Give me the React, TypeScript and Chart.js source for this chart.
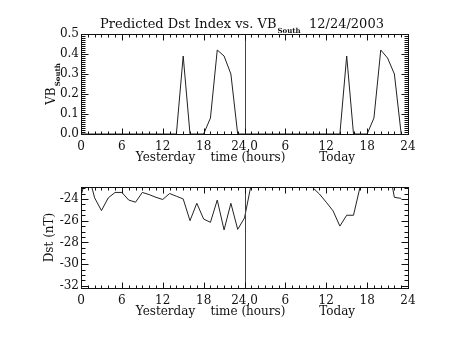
import React, { useEffect, useRef } from "react";
import { Chart, registerables } from "chart.js";

Chart.register(...registerables);

const hours = [
  0, 1, 2, 3, 4, 5, 6, 7, 8, 9, 10, 11, 12, 13, 14, 15, 16, 17, 18, 19, 20, 21, 22, 23,
  24, 25, 26, 27, 28, 29, 30, 31, 32, 33, 34, 35, 36, 37, 38, 39, 40, 41, 42, 43, 44, 45, 46, 47,
];
const vbSouth = [
  0, 0, 0, 0, 0, 0, 0, 0, 0, 0, 0, 0, 0, 0, 0, 0.39, 0, 0, 0, 0.08, 0.42, 0.39, 0.3, 0,
  0, 0, 0, 0, 0, 0, 0, 0, 0, 0, 0, 0, 0, 0, 0, 0.39, 0, 0, 0, 0.08, 0.42, 0.38, 0.3, 0,
];
const dst = [
  -23.7, -21.5, -23.9, -25.07, -23.9, -23.4, -23.4, -24.1, -24.3, -23.4, -23.6, -23.85,
  -24.05, -23.5, -23.75, -24.0, -26.0, -24.4, -25.85, -26.15, -24.1, -26.85, -24.4, -26.8,
  -25.75, -22.6, -22.0, -21.5, -21.0, -21.3, -21.8, -22.0, -21.9, -22.3, -22.95, -23.55,
  -24.3, -25.1, -26.5, -25.5, -25.5, -22.8, -22.4, -22.97, -22.3, -20.5, -23.85, -23.95,
];
const xTickValues = [0, 6, 12, 18, 24, 30, 36, 42, 48];
const xTickLabels = ["0", "6", "12", "18", "24,0", "6", "12", "18", "24"];
const vbTicks = [0, 0.1, 0.2, 0.3, 0.4, 0.5];
const vbTickLabels = ["0.0", "0.1", "0.2", "0.3", "0.4", "0.5"];
const dstTicks = [-32, -30, -28, -26, -24];
const dstTickLabels = ["-32", "-30", "-28", "-26", "-24"];
const dayLabels = ["Yesterday", "time (hours)", "Today"];
const titleMain = "Predicted Dst Index vs. VB";
const titleSub = "South";
const titleDate = "12/24/2003";
const vbAxisMain = "VB";
const vbAxisSub = "South";
const dstAxisTitle = "Dst (nT)";

const FONT = '"DejaVu Serif", serif';
const INK = "#111";

type Kind = "vb" | "dst";

function framePlugin(kind: Kind) {
  return {
    id: "frame" + kind,
    afterDatasetsDraw(chart: any) {
      const { ctx, chartArea: a, scales } = chart;
      const xs = scales.x;
      ctx.save();
      ctx.strokeStyle = "#444";
      ctx.lineWidth = 1;
      const px = Math.round(xs.getPixelForValue(24)) + 0.5;
      ctx.beginPath();
      ctx.moveTo(px, a.top);
      ctx.lineTo(px, a.bottom);
      ctx.stroke();
      ctx.restore();
    },
    afterDraw(chart: any) {
      const { ctx, chartArea: a, scales } = chart;
      const xs = scales.x;
      const ys = scales.y;
      const L = Math.round(a.left) + 0.5;
      const R = Math.round(a.right) + 0.5;
      const T = Math.round(a.top) + 0.5;
      const B = Math.round(a.bottom) + 0.5;
      ctx.save();
      ctx.strokeStyle = INK;
      ctx.lineWidth = 1;
      ctx.strokeRect(L, T, R - L, B - T);
      ctx.beginPath();
      // x ticks (minor every hour, major every 6)
      for (let h = 0; h <= 48; h += 1) {
        const x = Math.round(xs.getPixelForValue(h)) + 0.5;
        const len = h % 6 === 0 ? 6 : 3;
        ctx.moveTo(x, B);
        ctx.lineTo(x, B - len);
        ctx.moveTo(x, T);
        ctx.lineTo(x, T + len);
      }
      // y ticks
      const yMajor = kind === "vb" ? vbTicks : dstTicks;
      const step = kind === "vb" ? 0.01 : 0.5;
      const lo = kind === "vb" ? 0 : -32;
      const hi = ys.max;
      for (let i = 0; lo + i * step <= hi + 1e-9; i++) {
        const v = lo + i * step;
        const y = Math.round(ys.getPixelForValue(v)) + 0.5;
        const isMajor = yMajor.some((m) => Math.abs(m - v) < 1e-6);
        const len = isMajor ? 7 : 4;
        ctx.moveTo(L, y);
        ctx.lineTo(L + len, y);
        ctx.moveTo(R, y);
        ctx.lineTo(R - len, y);
      }
      ctx.stroke();

      // axis titles under x axis
      ctx.fillStyle = INK;
      ctx.font = `12px ${FONT}`;
      ctx.textAlign = "center";
      ctx.textBaseline = "middle";
      const ty = B + 23;
      ctx.fillText(dayLabels[0], xs.getPixelForValue(12.4), ty);
      ctx.fillText(dayLabels[1], xs.getPixelForValue(24.5), ty);
      ctx.fillText(dayLabels[2], xs.getPixelForValue(37.6), ty);

      const cy = (a.top + a.bottom) / 2;
      if (kind === "vb") {
        // title
        ctx.textAlign = "left";
        ctx.textBaseline = "alphabetic";
        ctx.font = `13px ${FONT}`;
        ctx.fillText(titleMain, 100, 28);
        const w1 = ctx.measureText(titleMain).width;
        ctx.font = `bold 7px ${FONT}`;
        ctx.fillText(titleSub, 100 + w1 + 1, 33);
        ctx.font = `13px ${FONT}`;
        ctx.fillText(titleDate, 309, 28);
        // y axis title with subscript
        ctx.save();
        ctx.translate(55, cy);
        ctx.rotate(-Math.PI / 2);
        ctx.font = `12px ${FONT}`;
        const wm = ctx.measureText(vbAxisMain).width;
        ctx.font = `bold 7px ${FONT}`;
        const ws = ctx.measureText(vbAxisSub).width;
        const start = -(wm + ws + 1) / 2;
        ctx.font = `12px ${FONT}`;
        ctx.fillText(vbAxisMain, start, 0);
        ctx.font = `bold 7px ${FONT}`;
        ctx.fillText(vbAxisSub, start + wm + 1, 5);
        ctx.restore();
      } else {
        ctx.save();
        ctx.translate(53, cy);
        ctx.rotate(-Math.PI / 2);
        ctx.font = `12px ${FONT}`;
        ctx.textAlign = "center";
        ctx.textBaseline = "alphabetic";
        ctx.fillText(dstAxisTitle, 0, 0);
        ctx.restore();
      }
      ctx.restore();
    },
  };
}

function makeConfig(kind: Kind): any {
  const isVb = kind === "vb";
  const values = isVb ? vbSouth : dst;
  const yT = isVb ? vbTicks : dstTicks;
  const yL = isVb ? vbTickLabels : dstTickLabels;
  return {
    type: "line",
    data: {
      datasets: [
        {
          data: hours.map((h, i) => ({ x: h, y: values[i] })),
          borderColor: "#222",
          borderWidth: 1,
          pointRadius: 0,
          tension: 0,
          fill: false,
        },
      ],
    },
    options: {
      animation: false,
      responsive: false,
      events: [],
      layout: {
        padding: isVb
          ? { left: 31, right: 45, top: 34, bottom: 0 }
          : { left: 31, right: 45, top: 17, bottom: 0 },
      },
      plugins: {
        legend: { display: false },
        tooltip: { enabled: false },
        title: { display: false },
      },
      scales: {
        x: {
          type: "linear",
          min: 0,
          max: 48,
          grid: { display: false, drawTicks: false },
          border: { display: false },
          afterBuildTicks: (s: any) => {
            s.ticks = xTickValues.map((v) => ({ value: v }));
          },
          afterFit: (s: any) => {
            s.height = isVb ? 36 : 52;
          },
          ticks: {
            autoSkip: false,
            maxRotation: 0,
            padding: 6,
            color: INK,
            font: { family: FONT, size: 12 },
            callback: (_v: any, i: number) => xTickLabels[i],
          },
        },
        y: {
          type: "linear",
          min: isVb ? 0 : -32.2,
          max: isVb ? 0.5 : -22.9,
          grid: { display: false, drawTicks: false },
          border: { display: false },
          afterBuildTicks: (s: any) => {
            s.ticks = yT.map((v) => ({ value: v }));
          },
          afterFit: (s: any) => {
            s.width = 50;
          },
          ticks: {
            autoSkip: false,
            padding: 2,
            color: INK,
            font: { family: FONT, size: 12 },
            callback: (_v: any, i: number) => yL[i],
          },
        },
      },
    },
    plugins: [framePlugin(kind)],
  };
}

export default function App() {
  const topRef = useRef<HTMLCanvasElement>(null);
  const botRef = useRef<HTMLCanvasElement>(null);
  useEffect(() => {
    const c1 = new Chart(topRef.current as HTMLCanvasElement, makeConfig("vb"));
    const c2 = new Chart(botRef.current as HTMLCanvasElement, makeConfig("dst"));
    return () => {
      c1.destroy();
      c2.destroy();
    };
  }, []);
  return (
    <div
      style={{
        position: "fixed",
        left: 0,
        top: 0,
        width: 453,
        height: 340,
        background: "#fff",
      }}
    >
      <canvas ref={topRef} width={453} height={170} style={{ display: "block", width: 453, height: 170 }} />
      <canvas ref={botRef} width={453} height={170} style={{ display: "block", width: 453, height: 170 }} />
    </div>
  );
}
